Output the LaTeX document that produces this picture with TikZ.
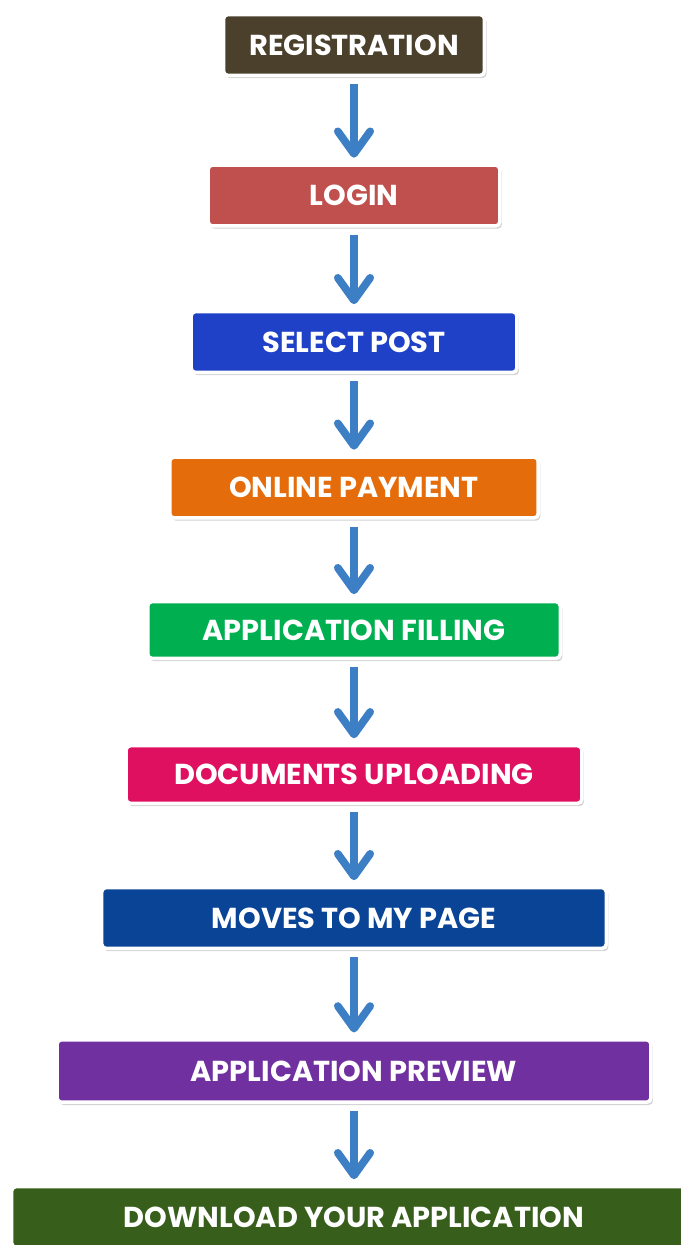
\documentclass[tikz,border=0pt]{standalone}
\usepackage{fontspec}
\setmainfont{Poppins}
\usetikzlibrary{arrows.meta}
\usetikzlibrary{shadows}
\definecolor{regbrown}{RGB}{74,64,43}
\definecolor{loginred}{RGB}{192,80,77}
\definecolor{postblue}{RGB}{31,65,200}
\definecolor{payorange}{RGB}{228,108,10}
\definecolor{fillgreen}{RGB}{0,176,80}
\definecolor{uploadpink}{RGB}{224,16,96}
\definecolor{pagenavy}{RGB}{10,68,150}
\definecolor{previewpurple}{RGB}{112,48,160}
\definecolor{downgreen}{RGB}{55,95,27}
\definecolor{flowblue}{RGB}{61,127,196}

\begin{document}
\begin{tikzpicture}[x={(0.025cm,0cm)},y={(0cm,-0.025cm)},
  stepbox/.style={draw=white,line width=2.5pt,rounded corners=3pt,text=white,
    font=\bfseries\fontsize{20.5}{24}\selectfont,minimum height=1.52cm,inner sep=0pt,
    drop shadow={shadow xshift=1.5pt,shadow yshift=-2pt,opacity=0.35}},
  flowarrow/.style={line width=5.5pt,flowblue,-{Straight Barb[length=16pt,width=23pt,round]},
    shorten <=5pt,shorten >=4pt}]
\useasboundingbox (0,0) rectangle (681,1245);
\clip (0,0) rectangle (681,1245);
% the steps
\node [stepbox,fill=regbrown,minimum width=6.52cm] (reg) at (354,45) {REGISTRATION};
\node [stepbox,fill=loginred,minimum width=7.29cm] (login) at (354,195.5) {LOGIN};
\node [stepbox,fill=postblue,minimum width=8.14cm] (post) at (354,342) {SELECT POST};
\node [stepbox,fill=payorange,minimum width=9.21cm] (pay) at (354,487.5) {ONLINE PAYMENT};
\node [stepbox,fill=fillgreen,minimum width=10.31cm,minimum height=1.42cm] (filling) at (354,630) {APPLICATION FILLING};
\node [stepbox,fill=uploadpink,minimum width=11.39cm,minimum height=1.44cm] (upload) at (354,774.5) {DOCUMENTS UPLOADING};
\node [stepbox,fill=pagenavy,minimum width=12.61cm] (mypage) at (354,918) {MOVES TO MY PAGE};
\node [stepbox,fill=previewpurple,minimum width=14.84cm,minimum height=1.56cm] (preview) at (354,1071) {APPLICATION PREVIEW};
\node [stepbox,fill=downgreen,minimum width=17.11cm] (download) at (354,1217) {DOWNLOAD YOUR APPLICATION};
% arrows
\foreach \a/\b in {reg/login,login/post,post/pay,pay/filling,filling/upload,upload/mypage,mypage/preview,preview/download}
  \draw [flowarrow] (\a) -- (\b);
\end{tikzpicture}
\end{document}
